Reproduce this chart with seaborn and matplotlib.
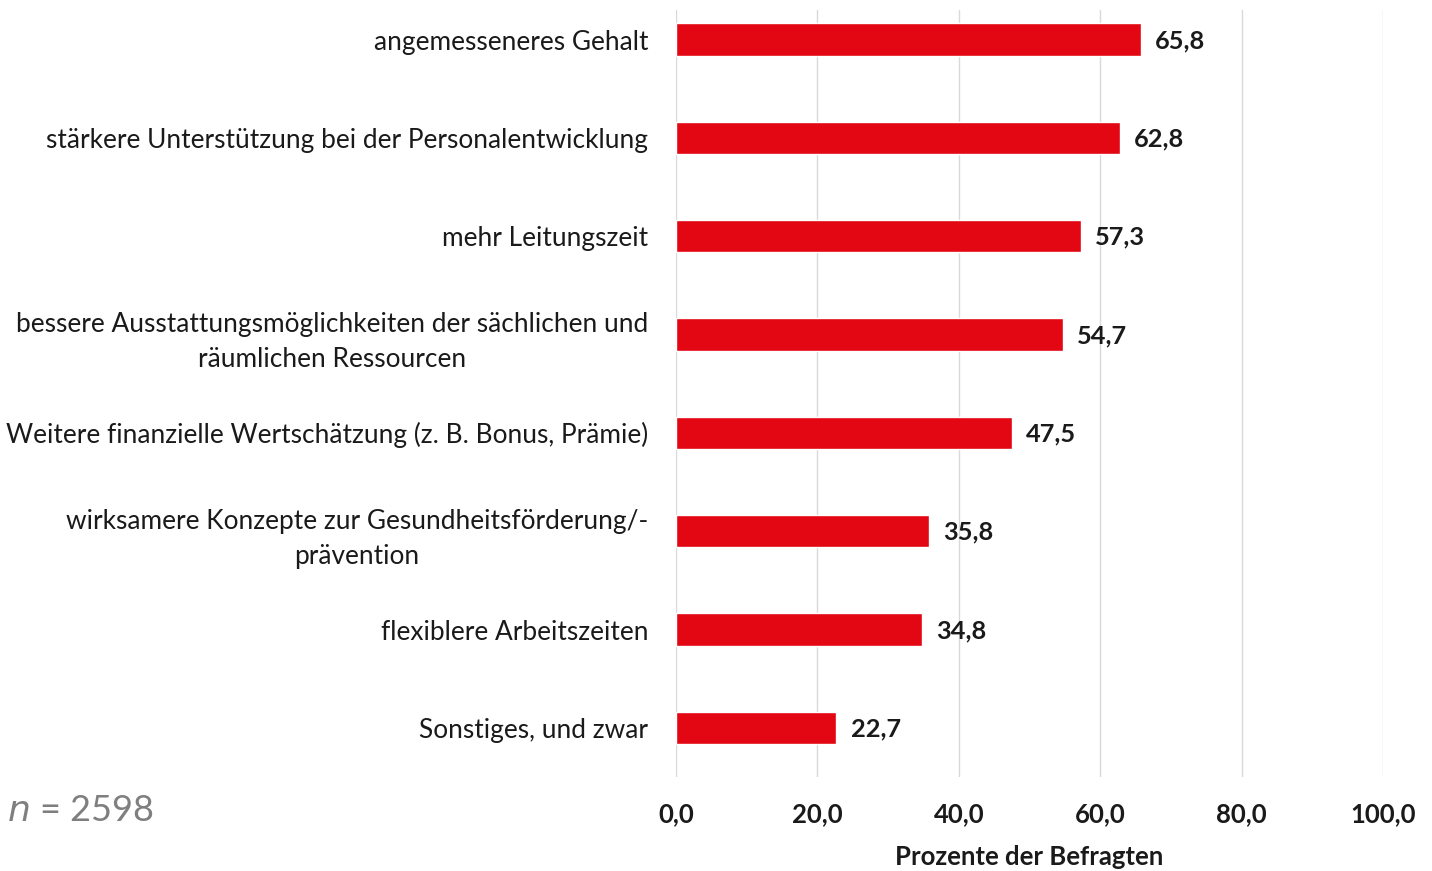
import matplotlib
matplotlib.use("Agg")
import matplotlib.pyplot as plt
import seaborn as sns
import pandas as pd

categories = [
    "angemesseneres Gehalt",
    "stärkere Unterstützung bei der Personalentwicklung",
    "mehr Leitungszeit",
    "bessere Ausstattungsmöglichkeiten der sächlichen und\nräumlichen Ressourcen",
    "Weitere finanzielle Wertschätzung (z. B. Bonus, Prämie)",
    "wirksamere Konzepte zur Gesundheitsförderung/-\nprävention",
    "flexiblere Arbeitszeiten",
    "Sonstiges, und zwar",
]
values = [65.8, 62.8, 57.3, 54.7, 47.5, 35.8, 34.8, 22.7]
xticks = [0, 20, 40, 60, 80, 100]

df = pd.DataFrame({"cat": categories, "val": values})

sns.set_theme(style="white")
FONT = ["Lato", "DejaVu Sans"]
plt.rcParams["font.family"] = FONT

fig = plt.figure(figsize=(14.32, 8.71), dpi=100)
ax = fig.add_axes([0.472, 0.1079, 0.4938, 0.8806])

sns.barplot(data=df, x="val", y="cat", ax=ax, color="#E30613", width=0.33,
            saturation=1, orient="h")

ax.set_xlim(0, 100)
ax.set_ylim(7.5, -0.3)
ax.set_xticks(xticks)
ax.set_xticklabels([f"{t:.1f}".replace(".", ",") for t in xticks],
                   fontsize=18.5, fontweight="bold", color="#1a1a1a")
ax.tick_params(axis="x", length=0, pad=18)
ax.tick_params(axis="y", length=0, pad=20)
for lbl in ax.get_yticklabels():
    lbl.set_fontsize(18.9)
    lbl.set_color("#1a1a1a")
    lbl.set_horizontalalignment("right")
    lbl.set_multialignment("center")
    lbl.set_linespacing(1.5)
    lbl.set_verticalalignment("center_baseline")
ax.set_ylabel("")
ax.set_xlabel("Prozente der Befragten", fontsize=18.5, fontweight="bold",
              color="#1a1a1a")
ax.xaxis.set_label_coords(0.5, -0.088)
ax.grid(axis="x", color="#d9d9d9", linewidth=1)
ax.set_axisbelow(True)
for s in ax.spines.values():
    s.set_visible(False)

for i, v in enumerate(values):
    ax.text(v + 2.0, i + 0.01, f"{v:.1f}".replace(".", ","), va="center", ha="left",
            fontsize=18.3, fontweight="bold", color="#1a1a1a")

fig.text(0.005, 0.069, "$\\it{n}$ = 2598", fontsize=26, color="#7f7f7f",
         ha="left", va="center")

fig.savefig("out.png", dpi=100)
